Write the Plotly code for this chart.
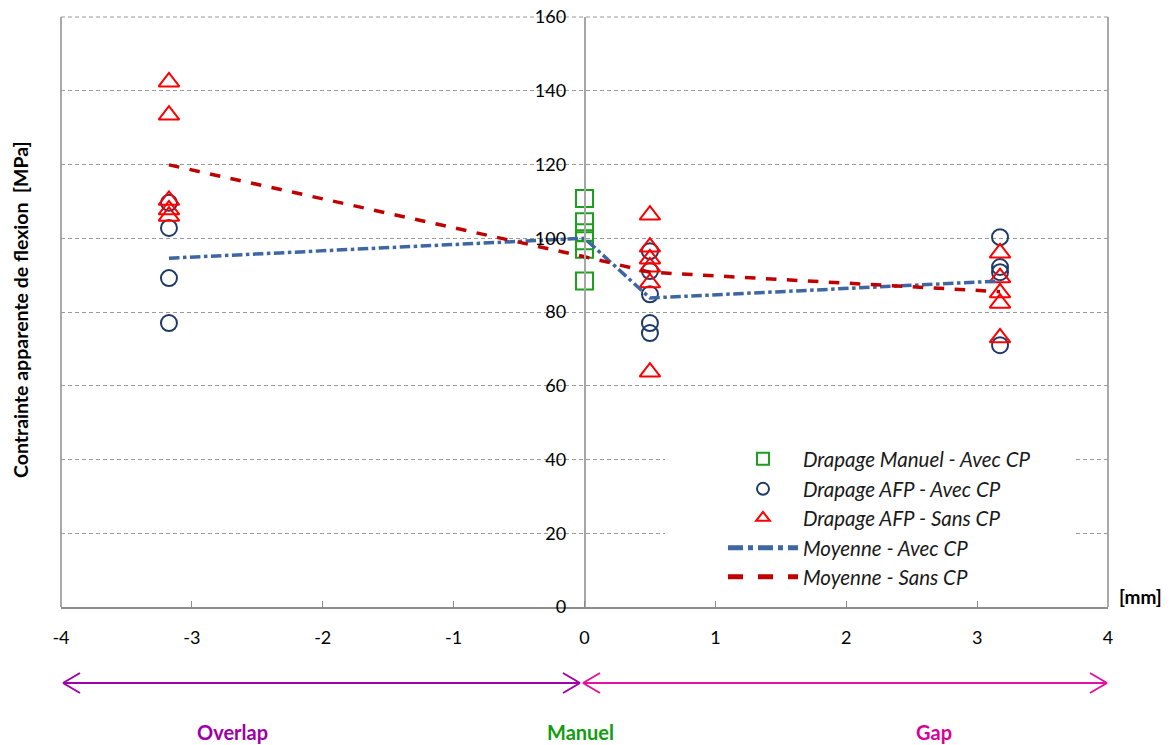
import plotly.graph_objects as go

# ---------------- data ----------------
x_overlap = -3.175
x_manual = 0.0
x_gap1 = 0.5
x_gap2 = 3.175

manuel_avec = [110.8, 104.5, 101.5, 99.3, 97.0, 88.4]

afp_avec_overlap = [109.6, 102.8, 89.2, 77.0]
afp_avec_gap1 = [96.5, 91.1, 84.8, 77.0, 74.3]
afp_avec_gap2 = [100.3, 92.2, 90.8, 71.0]

afp_sans_overlap = [142.4, 133.4, 110.3, 107.7, 106.0]
afp_sans_gap1 = [106.3, 97.6, 94.4, 92.2, 87.9, 63.7]
afp_sans_gap2 = [96.0, 89.3, 85.2, 82.4, 73.0]

moy_x = [x_overlap, x_manual, x_gap1, x_gap2]
moy_avec = [94.6, 100.0, 83.8, 88.4]
moy_sans = [119.9, 95.0, 90.8, 85.5]

x_ticks = [-4, -3, -2, -1, 0, 1, 2, 3, 4]
y_ticks = [0, 20, 40, 60, 80, 100, 120, 140, 160]

legend_names = [
    "Drapage Manuel - Avec CP",
    "Drapage AFP - Avec CP",
    "Drapage AFP - Sans CP",
    "Moyenne - Avec CP",
    "Moyenne - Sans CP",
]

FONT = "Lato"
GREEN = "#1AA01A"
NAVY = "#1F3A66"
RED = "#FF0000"
BLUE_LINE = "#3E66A3"
RED_LINE = "#C00000"

fig = go.Figure()

fig.add_trace(go.Scatter(
    x=[x_manual] * len(manuel_avec), y=manuel_avec, mode="markers",
    name=legend_names[0], legend="legend",
    marker=dict(symbol="square-open", size=17, color=GREEN, line=dict(width=2, color=GREEN)),
))
av_x = [x_overlap] * len(afp_avec_overlap) + [x_gap1] * len(afp_avec_gap1) + [x_gap2] * len(afp_avec_gap2)
av_y = afp_avec_overlap + afp_avec_gap1 + afp_avec_gap2
fig.add_trace(go.Scatter(
    x=av_x, y=av_y, mode="markers", name=legend_names[1], legend="legend2",
    marker=dict(symbol="circle-open", size=16, color=NAVY, line=dict(width=2, color=NAVY)),
))
sa_x = [x_overlap] * len(afp_sans_overlap) + [x_gap1] * len(afp_sans_gap1) + [x_gap2] * len(afp_sans_gap2)
sa_y = afp_sans_overlap + afp_sans_gap1 + afp_sans_gap2
fig.add_trace(go.Scatter(
    x=sa_x, y=sa_y, mode="markers", name=legend_names[2], legend="legend3",
    marker=dict(symbol="triangle-up-open", size=18, color=RED, line=dict(width=2, color=RED)),
))
fig.add_trace(go.Scatter(
    x=moy_x, y=moy_avec, mode="lines", name=legend_names[3], legend="legend4",
    line=dict(color=BLUE_LINE, width=3.5, dash="dashdot"),
))
fig.add_trace(go.Scatter(
    x=moy_x, y=moy_sans, mode="lines", name=legend_names[4], legend="legend5",
    line=dict(color=RED_LINE, width=3.5, dash="dash"),
))

# ---------- layout geometry (screen pixels; body margin removed by post_script) ----------
W, H = 1175, 745
P_LEFT, P_RIGHT, P_TOP, P_BOTTOM = 61, 1108, 17, 607   # plot area on screen
L = P_LEFT
T = P_TOP
R = W - P_RIGHT
B = H - P_BOTTOM
pw = P_RIGHT - P_LEFT
ph = P_BOTTOM - P_TOP


def px_to_paper_x(px):
    return (px - P_LEFT) / pw


def px_to_paper_y(py):
    return (P_BOTTOM - py) / ph


def px_to_x(px):
    return -4 + 8 * (px - P_LEFT) / pw


leg_font = dict(family=FONT, size=20.5, color="#1a1a1a", style="italic")
leg_rows = [459, 489, 518, 548, 577]
legends = {}
for i, yy in enumerate(leg_rows):
    key = "legend" if i == 0 else f"legend{i + 1}"
    legends[key] = dict(
        x=px_to_paper_x(723), xanchor="left",
        y=px_to_paper_y(yy), yanchor="middle",
        bgcolor="rgba(0,0,0,0)", borderwidth=0,
        font=leg_font, itemwidth=70, itemsizing="constant",
    )

shapes = []
# white background behind legend (covers grid)
shapes.append(dict(type="rect", xref="x", yref="y", x0=px_to_x(665), x1=px_to_x(1075), y0=3.3, y1=45.3,
                   fillcolor="white", line=dict(width=0), layer="between"))
# left/right borders, dashed top
for xp in (0, 1):
    shapes.append(dict(type="line", xref="paper", yref="paper", x0=xp, x1=xp, y0=0, y1=1,
                       line=dict(color="#8C8C8C", width=1.5), layer="below"))
shapes.append(dict(type="line", xref="paper", yref="paper", x0=0, x1=1, y0=1, y1=1,
                   line=dict(color="#9A9A9A", width=1.2, dash="4px,3px"), layer="below"))

# bottom arrows
ay = px_to_paper_y(683)
dy = 10 / ph
dx = 17 / (pw / 8)
PURPLE = "#A000A8"
MAGENTA = "#E6109E"


def arrow(x0, x1, color):
    out = [dict(type="line", xref="x", yref="paper", x0=x0, x1=x1, y0=ay, y1=ay,
                line=dict(color=color, width=2))]
    for tip, sgn in ((x0, 1), (x1, -1)):
        for s in (1, -1):
            out.append(dict(type="line", xref="x", yref="paper", x0=tip, x1=tip + sgn * dx,
                            y0=ay, y1=ay + s * dy, line=dict(color=color, width=2)))
    return out


shapes += arrow(px_to_x(63), px_to_x(580), PURPLE)
shapes += arrow(px_to_x(583), px_to_x(1107), MAGENTA)

lab_y = px_to_paper_y(732)
annotations = [
    dict(text="<b>Contrainte apparente de flexion  [MPa]</b>", textangle=-90,
         xref="paper", yref="paper", x=px_to_paper_x(20), y=px_to_paper_y(310),
         xanchor="center", yanchor="middle",
         showarrow=False, font=dict(family=FONT, size=19.5, color="black")),
    dict(text="<b>[mm]</b>", xref="paper", yref="paper",
         x=px_to_paper_x(1140), y=px_to_paper_y(596), xanchor="center", yanchor="middle",
         showarrow=False, font=dict(family=FONT, size=19, color="black")),
    dict(text="<b>Overlap</b>", xref="paper", yref="paper", x=px_to_paper_x(232), y=lab_y,
         xanchor="center", yanchor="middle",
         showarrow=False, font=dict(family=FONT, size=20, color="#9E00A6")),
    dict(text="<b>Manuel</b>", xref="paper", yref="paper", x=px_to_paper_x(580), y=lab_y,
         xanchor="center", yanchor="middle",
         showarrow=False, font=dict(family=FONT, size=20, color="#0E9E0E")),
    dict(text="<b>Gap</b>", xref="paper", yref="paper", x=px_to_paper_x(934), y=lab_y,
         xanchor="center", yanchor="middle",
         showarrow=False, font=dict(family=FONT, size=20, color="#D8009A")),
]

fig.update_layout(
    width=W, height=H,
    margin=dict(l=L, r=R, t=T, b=B, autoexpand=False),
    paper_bgcolor="white", plot_bgcolor="white",
    font=dict(family=FONT, size=18, color="black"),
    showlegend=True,
    shapes=shapes, annotations=annotations,
    xaxis=dict(range=[-4, 4], tickvals=x_ticks, ticktext=[str(v) for v in x_ticks],
               showgrid=False, zeroline=False, showline=True, linecolor="#8C8C8C", linewidth=1.5,
               ticks="inside", ticklen=6, tickcolor="#8C8C8C", ticklabelstandoff=14,
               ticklabeloverflow="allow",
               tickfont=dict(family=FONT, size=18, color="black")),
    yaxis=dict(range=[0, 160], tickvals=y_ticks, anchor="free", position=0.5,
               showgrid=True, gridcolor="#9A9A9A", griddash="4px,3px", gridwidth=1.2,
               zeroline=False, showline=True, linecolor="#A6A6A6", linewidth=1.5,
               ticks="", ticklabelstandoff=14, ticklabeloverflow="allow",
               tickfont=dict(family=FONT, size=18, color="black")),
    **legends,
)

fig.write_html(
    "out.html",
    config={"displayModeBar": False},
    post_script="document.body.style.margin='0';document.body.style.overflow='hidden';",
)
